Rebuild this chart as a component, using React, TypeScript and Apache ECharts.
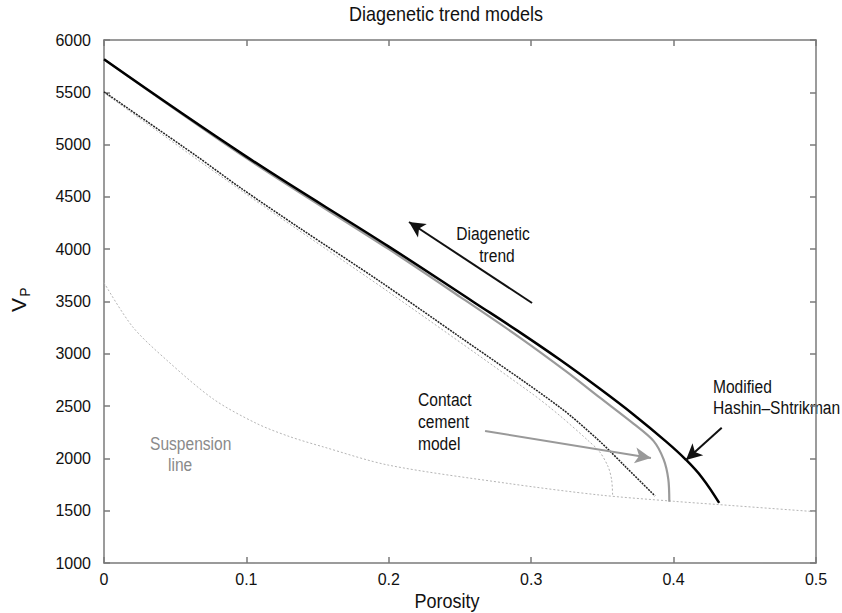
import React, { useEffect, useRef } from "react";
import * as echarts from "echarts";

// Porosity / Vp readings for each curve
const hsPorosity = [0, 0.1, 0.2, 0.26, 0.29, 0.32, 0.348, 0.372, 0.395, 0.408, 0.42, 0.432];
const hsVp = [5815, 4885, 4025, 3491, 3224, 2945, 2668, 2418, 2158, 1996, 1816, 1575];

const ccPorosity = [0, 0.1, 0.2, 0.25, 0.292, 0.325, 0.348, 0.372, 0.386, 0.393, 0.3963, 0.397];
const ccVp = [5815, 4870, 4000, 3545, 3155, 2827, 2583, 2330, 2165, 1990, 1800, 1586];

const lowerPorosity = [0, 0.065, 0.0955, 0.1376, 0.194, 0.25, 0.32, 0.348, 0.367, 0.387];
const lowerVp = [5505, 4890, 4590, 4200, 3690, 3160, 2490, 2165, 1910, 1641];

const lowerCcPorosity = [0, 0.1, 0.2, 0.3, 0.32, 0.34, 0.348, 0.354, 0.3565, 0.3572];
const lowerCcVp = [5495, 4525, 3590, 2625, 2410, 2170, 2064, 1921, 1793, 1634];

const suspPorosity = [0, 0.02, 0.044, 0.077, 0.107, 0.13, 0.154, 0.2, 0.283, 0.348, 0.4, 0.43, 0.5];
const suspVp = [3680, 3260, 2940, 2565, 2335, 2210, 2110, 1935, 1762, 1650, 1590, 1560, 1490];

const xTicks = { min: 0, max: 0.5, interval: 0.1 };
const yTicks = { min: 1000, max: 6000, interval: 500 };

const FONT = "'Liberation Sans', Arial, sans-serif";

const zip = (xs: number[], ys: number[]) => xs.map((x, i) => [x, ys[i]]);

export default function App() {
  const ref = useRef<HTMLDivElement>(null);
  useEffect(() => {
    if (!ref.current) return;
    const chart = echarts.init(ref.current, null, { renderer: "svg" });
    const axisLineStyle = { color: "#7a7a7a", width: 1.5 };
    const labelStyle = {
      color: "#111",
      fontFamily: FONT,
      fontSize: 16,
      formatter: (v: number) => String(v),
    };
    const text = (t: string, x: number, y: number, opts: any = {}) => ({
      type: "text",
      x,
      y,
      silent: true,
      scaleX: opts.scaleX || 0.82,
      rotation: opts.rotation || 0,
      style: {
        text: t,
        fill: opts.fill || "#111",
        font: `${opts.size || 19}px ${FONT}`,
        textAlign: opts.align || "left",
        textVerticalAlign: "middle",
      },
    });
    chart.setOption({
      animation: false,
      grid: { left: 104, right: 26, top: 40, bottom: 50, containLabel: false },
      xAxis: [
        {
          type: "value",
          ...xTicks,
          position: "bottom",
          axisLine: { show: true, onZero: false, lineStyle: axisLineStyle },
          axisTick: { show: true, inside: true, length: 6, lineStyle: axisLineStyle },
          axisLabel: { ...labelStyle, margin: 8 },
          splitLine: { show: false },
        },
        {
          type: "value",
          ...xTicks,
          position: "top",
          axisLine: { show: true, onZero: false, lineStyle: axisLineStyle },
          axisTick: { show: true, inside: true, length: 6, lineStyle: axisLineStyle },
          axisLabel: { show: false },
          splitLine: { show: false },
        },
      ],
      yAxis: [
        {
          type: "value",
          ...yTicks,
          position: "left",
          axisLine: { show: true, onZero: false, lineStyle: axisLineStyle },
          axisTick: { show: true, inside: true, length: 6, lineStyle: axisLineStyle },
          axisLabel: { ...labelStyle, margin: 13 },
          splitLine: { show: false },
        },
        {
          type: "value",
          ...yTicks,
          position: "right",
          axisLine: { show: true, onZero: false, lineStyle: axisLineStyle },
          axisTick: { show: true, inside: true, length: 6, lineStyle: axisLineStyle },
          axisLabel: { show: false },
          splitLine: { show: false },
        },
      ],
      graphic: [
        text("Diagenetic trend models", 446, 14, { size: 20, scaleX: 0.9, align: "center" }),
        text("Porosity", 447, 601, { size: 20, scaleX: 0.9, align: "center" }),
        text("V", 18, 305, { size: 21, scaleX: 1, align: "center", rotation: Math.PI / 2 }),
        text("P", 24.5, 292, { size: 14, scaleX: 1, align: "center", rotation: Math.PI / 2 }),
        text("Diagenetic", 493, 233, { align: "center" }),
        text("trend", 497, 255, { align: "center" }),
        text("Modified", 713, 386),
        text("Hashin–Shtrikman", 713, 407),
        text("Contact", 418, 399),
        text("cement", 418, 421),
        text("model", 418, 443),
        text("Suspension", 150, 443.5, { fill: "#8a8a8a" }),
        text("line", 168, 464, { fill: "#8a8a8a" }),
      ],
      series: [
        {
          type: "line",
          name: "Suspension line",
          data: zip(suspPorosity, suspVp),
          smooth: 0.3,
          symbol: "none",
          lineStyle: { color: "#b5b5b5", width: 1, type: [2, 2] },
          silent: true,
          markLine: {
            silent: true,
            symbol: ["none", "arrow"],
            symbolSize: [12, 16],
            label: { show: false },
            emphasis: { disabled: true },
            data: [
              [
                { coord: [0.3006, 3486], lineStyle: { color: "#111", width: 2, type: "solid" } },
                { coord: [0.2142, 4260] },
              ],
              [
                { coord: [0.4338, 2293], lineStyle: { color: "#111", width: 2, type: "solid" } },
                { coord: [0.4087, 1985] },
              ],
              [
                { coord: [0.2676, 2262], lineStyle: { color: "#999", width: 2, type: "solid" } },
                { coord: [0.3841, 2004] },
              ],
            ],
          },
        },
        {
          type: "line",
          name: "Lower contact cement",
          data: zip(lowerCcPorosity, lowerCcVp),
          smooth: 0.3,
          symbol: "none",
          lineStyle: { color: "#b0b0b0", width: 1, type: [2, 2] },
          silent: true,
        },
        {
          type: "line",
          name: "Lower HS",
          data: zip(lowerPorosity, lowerVp),
          smooth: 0.3,
          symbol: "none",
          lineStyle: { color: "#222", width: 1.5, type: [2, 1] },
          silent: true,
        },
        {
          type: "line",
          name: "Contact cement model",
          data: zip(ccPorosity, ccVp),
          smooth: 0.3,
          symbol: "none",
          lineStyle: { color: "#9a9a9a", width: 2.2 },
          silent: true,
        },
        {
          type: "line",
          name: "Modified Hashin–Shtrikman",
          data: zip(hsPorosity, hsVp),
          smooth: 0.4,
          symbol: "none",
          lineStyle: { color: "#000", width: 2.5 },
          silent: true,
        },
      ],
    });
    return () => chart.dispose();
  }, []);
  return (
    <div
      ref={ref}
      style={{ position: "fixed", left: 0, top: 0, width: 842, height: 613, background: "#fff" }}
    />
  );
}
